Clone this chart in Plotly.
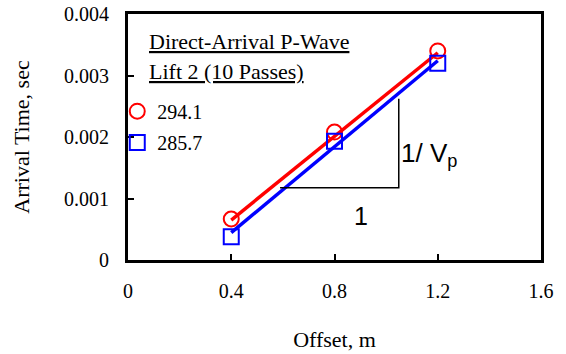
import plotly.graph_objects as go

# Data
offset = [0.4, 0.8, 1.2]
time_a = [0.000667, 0.00208, 0.0034]     # red circles (Vp = 294.1)
time_b = [0.000379, 0.00193, 0.0032]     # blue squares (Vp = 285.7)
fit_x = [0.4, 1.2]
fit_a = [0.00065, 0.00337]
fit_b = [0.000444, 0.00324]
labels = ["294.1", "285.7"]
x_ticks = [0, 0.4, 0.8, 1.2, 1.6]
y_ticks = [0, 0.001, 0.002, 0.003, 0.004]
y_ticktext = ["0", "0.001", "0.002", "0.003", "0.004"]
slope_x = [0.589, 1.049, 1.049]
slope_y = [0.001176, 0.001176, 0.00262]
legend_title = ["Direct-Arrival P-Wave", "Lift 2 (10 Passes)"]

serif = "Liberation Serif"
sans = "Liberation Sans"

fig = go.Figure()
fig.add_trace(go.Scatter(x=fit_x, y=fit_a, mode="lines", line=dict(color="#FF0000", width=3.5), showlegend=False))
fig.add_trace(go.Scatter(x=fit_x, y=fit_b, mode="lines", line=dict(color="#0000FF", width=3.5), showlegend=False))
fig.add_trace(go.Scatter(x=offset, y=time_a, mode="markers", name=labels[0], legend="legend",
                         marker=dict(symbol="circle-open", size=15, color="#FF0000", line=dict(width=2))))
fig.add_trace(go.Scatter(x=offset, y=time_b, mode="markers", name=labels[1], legend="legend2",
                         marker=dict(symbol="square-open", size=15, color="#0000FF", line=dict(width=2))))
fig.add_trace(go.Scatter(x=slope_x, y=slope_y, mode="lines", line=dict(color="black", width=1.5),
                         showlegend=False))

fig.add_annotation(x=1.049, y=0.00172, xref="x", yref="y", text="1/ V<sub>p</sub>", showarrow=False,
                   xanchor="left", yanchor="middle", xshift=0, font=dict(family=sans, size=26, color="black"))
fig.add_annotation(x=0.903, y=0.00071, xref="x", yref="y", text="1", showarrow=False,
                   xanchor="center", yanchor="middle", font=dict(family=sans, size=25, color="black"))

title_y = [0.890, 0.768]
for txt, ty in zip(legend_title, title_y):
    fig.add_annotation(x=0.046, y=ty, xref="paper", yref="paper", text="<u>" + txt + "</u>",
                       showarrow=False, xanchor="left", yanchor="middle",
                       font=dict(family=serif, size=22, color="black"))

leg_common = dict(x=-0.026, xanchor="left", yanchor="middle", bgcolor="rgba(0,0,0,0)",
                  font=dict(family=serif, size=20, color="black"), itemwidth=30)

fig.update_layout(
    width=566, height=354,
    margin=dict(l=128, r=25, t=14, b=94, autoexpand=False),
    paper_bgcolor="white", plot_bgcolor="white",
    font=dict(family=serif, size=20, color="black"),
    legend=dict(y=0.605, **leg_common),
    legend2=dict(y=0.478, **leg_common),
    xaxis=dict(
        range=[0, 1.6], tickvals=x_ticks, ticktext=[str(v) for v in x_ticks], automargin=False,
        showgrid=False, zeroline=False, showline=True, linewidth=3, linecolor="black", mirror=True,
        ticks="inside", ticklen=6, tickwidth=1.5, tickcolor="black",
        ticklabelstandoff=11, tickfont=dict(family=serif, size=20),
        title=dict(text="Offset, m", standoff=31, font=dict(family=serif, size=22)),
    ),
    yaxis=dict(
        range=[0, 0.004], tickvals=y_ticks, ticktext=y_ticktext, automargin=False,
        showgrid=False, zeroline=False, showline=True, linewidth=3, linecolor="black", mirror=True,
        ticks="inside", ticklen=6, tickwidth=1.5, tickcolor="black",
        ticklabelstandoff=12, tickfont=dict(family=serif, size=20),
        title=dict(text="Arrival Time, sec", standoff=29, font=dict(family=serif, size=22)),
    ),
)

fig.write_html("out.html")
